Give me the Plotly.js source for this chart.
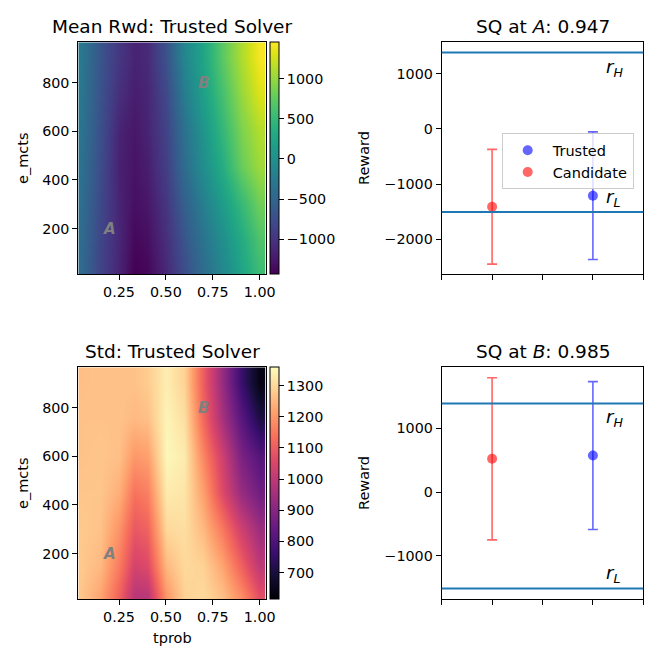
<!DOCTYPE html>
<html>
<head>
<meta charset="utf-8">
<script src="https://cdn.plot.ly/plotly-3.0.1.min.js"></script>
<style>html,body{margin:0;padding:0;background:#fff;}#chart{width:664px;height:664px;}</style>
</head>
<body>
<div id="chart"></div>
<script>
// ---- grid of the heatmaps ----
const tprob = [0.05, 0.15, 0.25, 0.33, 0.4, 0.5, 0.6, 0.7, 0.8, 0.9, 1.0];
const eMcts = [30, 150, 300, 450, 600, 750, 900];

// Mean reward of the trusted solver (rows follow eMcts, columns follow tprob)
const meanRwd = [
  [-450, -850, -1150, -1430, -1380, -1100, -750, -400, -100, 250, 550],
  [-430, -830, -1130, -1380, -1330, -1050, -680, -330, -20, 320, 650],
  [-400, -800, -1150, -1320, -1260, -980, -560, -200, 150, 500, 820],
  [-360, -760, -1180, -1290, -1200, -900, -420, -20, 350, 780, 1030],
  [-330, -730, -1150, -1260, -1150, -850, -360, 60, 480, 880, 1120],
  [-300, -700, -1050, -1200, -1130, -800, -230, 200, 600, 1000, 1300],
  [-280, -680, -980, -1150, -1100, -700, -120, 260, 720, 1100, 1420]
];

// Std of the trusted solver
const stdRwd = [
  [1270, 1220, 1110, 990, 990, 1200, 1290, 1300, 1260, 1180, 1070],
  [1275, 1250, 1150, 1040, 1060, 1250, 1300, 1290, 1220, 1110, 1000],
  [1275, 1265, 1190, 1090, 1110, 1300, 1310, 1250, 1150, 1030, 940],
  [1270, 1270, 1235, 1140, 1160, 1330, 1320, 1210, 1060, 930, 860],
  [1265, 1270, 1260, 1200, 1210, 1350, 1330, 1170, 1030, 880, 810],
  [1265, 1265, 1265, 1250, 1260, 1345, 1310, 1120, 960, 820, 710],
  [1260, 1265, 1265, 1265, 1280, 1335, 1290, 1100, 930, 760, 640]
];

// Points A and B on the heatmaps
const pointNames = ['A', 'B'];
const pointTprob = [0.2, 0.7];
const pointEmcts = [200, 800];

// Error-bar panels
const solvers = ['Trusted', 'Candidate'];
const meanAtA = [-1213, -1413];
const stdAtA = [1160, 1043];
const meanAtB = [574, 522];
const stdAtB = [1158, 1270];
const sqScores = [0.947, 0.985];
const rH = 1390;
const rL = -1508;

// ---- styling ----
const magma = [
  [0.0, '#000004'], [0.1, '#140e36'], [0.2, '#3b0f70'], [0.3, '#641a80'],
  [0.4, '#8c2981'], [0.5, '#b73779'], [0.6, '#de4968'], [0.7, '#f7705c'],
  [0.8, '#fe9f6d'], [0.9, '#fecf92'], [1.0, '#fcfdbf']
];

// ---- layout helpers (pixel geometry) ----
const W = 664, H = 664;
const px = v => v / W;
const py = v => 1 - v / H;
const font = 'DejaVu Sans, sans-serif';
const solverX = [3, 1];
const solverColor = ['rgba(0,0,255,0.6)', 'rgba(255,0,0,0.6)'];

const heatX = [px(78.3), px(265.7)];
const rightX = [px(441.7), px(643.3)];
const topY = [py(274), py(42.3)];
const botY = [py(599), py(367.3)];

function cbar(yTop, vals) {
  return {
    x: px(270), xanchor: 'left', xref: 'paper', xpad: 0,
    y: yTop, yanchor: 'top', yref: 'paper', ypad: 0,
    len: 231.7 / H, lenmode: 'fraction', thickness: 9,
    outlinewidth: 1, outlinecolor: '#000',
    ticks: 'outside', ticklen: 5, tickwidth: 1, tickcolor: '#000',
    tickvals: vals, tickfont: {size: 14.3, family: font, color: '#000'}
  };
}

const traces = [];
traces.push({
  type: 'heatmap', x: tprob, y: eMcts, z: meanRwd, xaxis: 'x', yaxis: 'y',
  colorscale: 'Viridis', zmin: -1435, zmax: 1451, zsmooth: 'best',
  colorbar: cbar(py(42.3), [-1000, -500, 0, 500, 1000]), hoverinfo: 'skip'
});
traces.push({
  type: 'heatmap', x: tprob, y: eMcts, z: stdRwd, xaxis: 'x3', yaxis: 'y3',
  colorscale: magma, zmin: 614, zmax: 1359, zsmooth: 'best',
  colorbar: cbar(py(367.3), [700, 800, 900, 1000, 1100, 1200, 1300]), hoverinfo: 'skip'
});

const panels = [
  {means: meanAtA, stds: stdAtA, xa: 'x2', ya: 'y2', legend: true},
  {means: meanAtB, stds: stdAtB, xa: 'x4', ya: 'y4', legend: false}
];
panels.forEach(p => {
  solvers.forEach((s, i) => {
    traces.push({
      type: 'scatter', mode: 'markers', name: s, legendrank: i + 1,
      x: [solverX[i]], y: [p.means[i]], xaxis: p.xa, yaxis: p.ya,
      showlegend: p.legend,
      marker: {size: 10, color: solverColor[i], line: {width: 0}},
      error_y: {type: 'data', array: [p.stds[i]], visible: true,
                color: solverColor[i], thickness: 1.6, width: 5}
    });
  });
});

const tickFont = {size: 14.3, family: font, color: '#000'};
function heatAxisX(anchor) {
  return {domain: heatX, anchor: anchor, range: [0.033, 1.032],
    tickvals: [0.25, 0.5, 0.75, 1.0], tickformat: '.2f',
    ticks: 'outside', ticklen: 5, tickcolor: '#000', showgrid: false, zeroline: false,
    showline: true, mirror: true, linecolor: '#000', linewidth: 1, tickfont: tickFont};
}
function heatAxisY(anchor, domY) {
  return {domain: domY, anchor: anchor, range: [14, 965],
    tickvals: [200, 400, 600, 800],
    ticks: 'outside', ticklen: 5, tickcolor: '#000', showgrid: false, zeroline: false,
    showline: true, mirror: true, linecolor: '#000', linewidth: 1, tickfont: tickFont};
}
function rightAxisX(anchor) {
  return {domain: rightX, anchor: anchor, range: [0, 4], tickvals: [0, 1, 2, 3, 4],
    showticklabels: false, ticks: 'outside', ticklen: 5, tickcolor: '#000',
    showgrid: false, zeroline: false, showline: true, mirror: true,
    linecolor: '#000', linewidth: 1};
}
function rightAxisY(anchor, domY, range, vals) {
  return {domain: domY, anchor: anchor, range: range, tickvals: vals,
    ticks: 'outside', ticklen: 5, tickcolor: '#000', showgrid: false, zeroline: false,
    showline: true, mirror: true, linecolor: '#000', linewidth: 1, tickfont: tickFont};
}

const annotations = [];
function txt(x, y, text, size, extra) {
  annotations.push(Object.assign({xref: 'paper', yref: 'paper', x: x, y: y, text: text,
    showarrow: false, xanchor: 'center', yanchor: 'middle',
    font: {size: size, family: font, color: '#000'}}, extra || {}));
}
txt(px(172), py(26.5), 'Mean Rwd: Trusted Solver', 18.5);
txt(px(542.5), py(26.5), 'SQ at <i>A</i>: ' + sqScores[0].toFixed(3), 18.5);
txt(px(172), py(351.5), 'Std: Trusted Solver', 18.5);
txt(px(542.5), py(351.5), 'SQ at <i>B</i>: ' + sqScores[1].toFixed(3), 18.5);
txt(px(23), py(158), 'e_mcts', 14.5, {textangle: -90});
txt(px(23), py(483), 'e_mcts', 14.5, {textangle: -90});
txt(px(172), py(637.5), 'tprob', 14.5);
txt(px(364), py(158), 'Reward', 14.5, {textangle: -90});
txt(px(364), py(483), 'Reward', 14.5, {textangle: -90});

[['x', 'y'], ['x3', 'y3']].forEach(ax => {
  pointNames.forEach((n, i) => {
    annotations.push({xref: ax[0], yref: ax[1], x: pointTprob[i], y: pointEmcts[i],
      text: '<b><i>' + n + '</i></b>', showarrow: false, xanchor: 'center', yanchor: 'middle',
      font: {size: 15, family: font, color: '#808080'}});
  });
});

const shapes = [];
[['x2', 'y2'], ['x4', 'y4']].forEach(ax => {
  [rH, rL].forEach(v => {
    shapes.push({type: 'line', xref: ax[0] + ' domain', yref: ax[1], x0: 0, x1: 1, y0: v, y1: v,
      line: {color: '#1f77b4', width: 2}});
  });
  annotations.push({xref: ax[0], yref: ax[1], x: 3.22, y: rH, text: '<i>r</i><sub><i>H</i></sub>',
    showarrow: false, xanchor: 'left', yanchor: 'top', yshift: -1,
    font: {size: 18, family: font, color: '#000'}});
  annotations.push({xref: ax[0], yref: ax[1], x: 3.22, y: rL, text: '<i>r</i><sub><i>L</i></sub>',
    showarrow: false, xanchor: 'left', yanchor: 'bottom', yshift: 0,
    font: {size: 18, family: font, color: '#000'}});
});

const layout = {
  width: W, height: H, margin: {l: 0, r: 0, t: 0, b: 0},
  paper_bgcolor: '#fff', plot_bgcolor: '#fff',
  font: {family: font, color: '#000'},
  xaxis: heatAxisX('y'), yaxis: heatAxisY('x', topY),
  xaxis2: rightAxisX('y2'), yaxis2: rightAxisY('x2', topY, [-2636, 1576], [-2000, -1000, 0, 1000]),
  xaxis3: heatAxisX('y3'), yaxis3: heatAxisY('x3', botY),
  xaxis4: rightAxisX('y4'), yaxis4: rightAxisY('x4', botY, [-1674, 1956], [-1000, 0, 1000]),
  showlegend: true,
  legend: {x: px(501.7), y: py(133.3), xanchor: 'left', yanchor: 'top',
    bgcolor: 'rgba(255,255,255,0.8)', bordercolor: '#cccccc', borderwidth: 1,
    itemwidth: 40, font: {size: 14.5, family: font, color: '#000'}, tracegroupgap: 0},
  annotations: annotations, shapes: shapes
};

Plotly.newPlot('chart', traces, layout, {staticPlot: true, displayModeBar: false});
</script>
</body>
</html>
